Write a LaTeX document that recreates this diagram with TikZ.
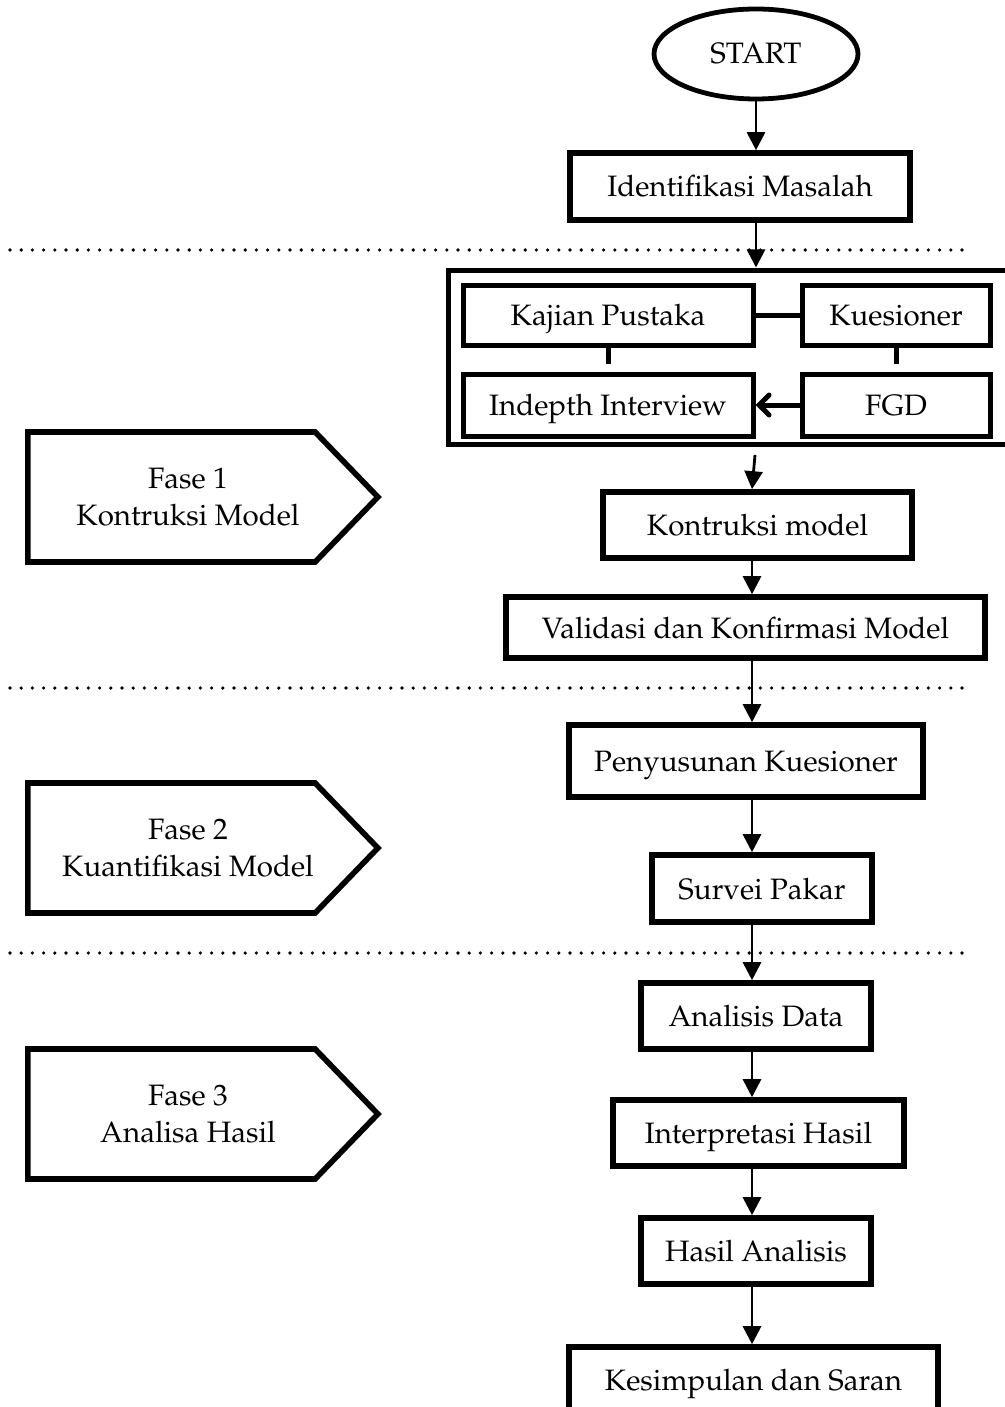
\documentclass[tikz,border=0pt]{standalone}
\usepackage[T1]{fontenc}
\usepackage{mathpazo}
\usetikzlibrary{arrows.meta,shapes.geometric,shapes.symbols,positioning}
\tikzset{
  terminal/.style  ={ellipse, draw, line width=2.4pt, minimum width=102pt, minimum height=45pt},
  proses/.style    ={rectangle, draw, line width=2.8pt, inner sep=0pt,
    text height=12pt, text depth=1.5pt},
  sub_proses/.style={rectangle, draw, line width=2.5pt, inner sep=0pt,
    minimum height=30pt, text height=12pt, text depth=1.5pt},
  kerangka/.style  ={rectangle, draw, line width=2.5pt, inner sep=0pt},
  fase/.style      ={signal, signal to=east, signal pointer angle=92, draw,
    line width=2.8pt, minimum width=175pt, minimum height=65pt},
  fase_teks/.style ={align=center},
  alur/.style      ={-{Triangle[length=9pt,width=9pt]}, line width=1.4pt},
  hubung/.style    ={line width=2.5pt},
  pemisah/.style   ={line width=1.8pt, dash pattern=on 0pt off 5.6pt, line cap=round}}
\begin{document}
\begin{tikzpicture}[x=0.5pt, y=-0.5pt, font=\fontsize{14.75}{18.5}\selectfont]
\useasboundingbox (0,0) rectangle (1005,1407);
% garis pemisah fase
\foreach \y in {250,688,953}
  \draw[pemisah] (10,\y) -- (965,\y);
% alur utama
\node[terminal] (start) at (756,54) {START};
\node[proses, minimum width=170pt, minimum height=33.5pt] (identifikasi) at (740,186.5) {Identifikasi Masalah};
\node[kerangka, minimum width=282pt, minimum height=87pt] (kotak) at (730,357) {};
\node[sub_proses, minimum width=145pt] (kajian)    at (608,315) {Kajian Pustaka};
\node[sub_proses, minimum width=94pt]  (kuesioner) at (896,315) {Kuesioner};
\node[sub_proses, minimum width=145pt, minimum height=31pt] (indepth) at (608,405) {Indepth Interview};
\node[sub_proses, minimum width=94pt,  minimum height=31pt] (fgd)     at (896,405) {FGD};
\node[proses, minimum width=154.5pt, minimum height=33pt]   (kontruksi)    at (757.5,525)  {Kontruksi model};
\node[proses, minimum width=239.5pt, minimum height=30.5pt] (validasi)     at (745.5,627.5) {Validasi dan Konfirmasi Model};
\node[proses, minimum width=177pt,   minimum height=36pt]   (penyusunan)   at (746,761)    {Penyusunan Kuesioner};
\node[proses, minimum width=110pt,   minimum height=33.5pt] (survei)       at (762,888.5)  {Survei Pakar};
\node[proses, minimum width=115pt,   minimum height=33pt]   (analisis)     at (756,1016)   {Analisis Data};
\node[proses, minimum width=145.5pt, minimum height=33pt]   (interpretasi) at (758.5,1133) {Interpretasi Hasil};
\node[proses, minimum width=115pt,   minimum height=33pt]   (hasil)        at (756,1251)   {Hasil Analisis};
\node[proses, minimum width=184.5pt, minimum height=33pt]   (kesimpulan)   at (753.5,1380) {Kesimpulan dan Saran};
% label fase
\foreach \n/\y/\judul in {1/497/Kontruksi Model, 2/848/Kuantifikasi Model, 3/1114/Analisa Hasil}{
  \node[fase] (fase\n) at (171.5,\y) {};
  \node[fase_teks] (teks\n) at (188,\y) {Fase \n\\\judul};
}
% panah
\coordinate (poros) at (752,0);
\coordinate (bawah) at (755,455);
\draw[alur] (start.south) -- (identifikasi.north -| start);
\draw[alur] (identifikasi.south -| start) -- (kotak.north -| start);
\draw[alur] (bawah) -- (kontruksi.north -| poros);
\foreach \a/\b in {kontruksi/validasi,validasi/penyusunan,penyusunan/survei,
  survei/analisis,analisis/interpretasi,interpretasi/hasil,hasil/kesimpulan}
  \draw[alur] (\a.south -| poros) -- (\b.north -| poros);
% hubungan di dalam kotak
\draw[hubung] (kajian) -- (kuesioner);
\draw[hubung, shorten >=4pt] (kajian.south) -- (indepth.north);
\draw[hubung, shorten >=4pt] (kuesioner.south) -- (fgd.north);
\draw[hubung, -{Straight Barb[length=5pt,width=10pt,line cap=round]}] (fgd) -- (indepth);
\end{tikzpicture}
\end{document}
